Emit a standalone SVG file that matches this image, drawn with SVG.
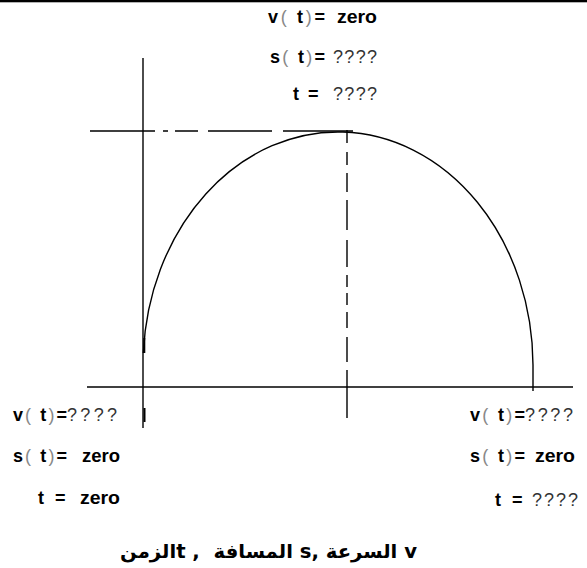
<svg xmlns="http://www.w3.org/2000/svg" width="587" height="568" viewBox="0 0 587 568">
<style>
.ln{stroke:#000;stroke-width:1.4;fill:none}
.b{font-family:"Liberation Sans",Arial,sans-serif;font-size:18px;font-weight:bold;fill:#000}
.r{font-family:"Liberation Sans",Arial,sans-serif;font-size:18px;font-weight:normal;fill:#333}
.p{font-weight:normal;fill:#888}
.ar{font-family:"DejaVu Sans",sans-serif;font-size:19px;font-weight:bold;fill:#000}
</style>
<rect x="0" y="0" width="587" height="2.3" fill="#000"/>
<g id="axes">
<line class="ln" x1="143" y1="58" x2="143" y2="428"/>
<line class="ln" x1="87" y1="387" x2="573" y2="387"/>
<line x1="144.5" y1="408" x2="144.5" y2="422" stroke="#000" stroke-width="2"/>
</g>
<g id="connectors">
<path class="ln" d="M90,131H155 M163,131H168 M175,131H198 M208,131H272 M283,131H353"/>
<path class="ln" d="M347,130V143 M347,152V165 M347,173V192 M347,200V230 M347,240V267 M347,275V287 M347,293V305 M347,312V328 M347,337V362 M347,370V418"/>
<path class="ln" d="M143.3,353 A195,234 0 0 1 533,365 L533,391"/>
<line x1="144.3" y1="338" x2="144.3" y2="353" stroke="#000" stroke-width="2"/>
</g>
<g id="top-label">
<text class="b" x="268" y="23" textLength="57" lengthAdjust="spacing">v<tspan class="p">(</tspan> t<tspan class="p">)</tspan>=</text>
<text class="b" x="337" y="23" textLength="40" lengthAdjust="spacingAndGlyphs">zero</text>
<text class="b" x="270" y="63" textLength="55" lengthAdjust="spacing">s<tspan class="p">(</tspan> t<tspan class="p">)</tspan>=</text>
<text class="r" x="333" y="63" textLength="44" lengthAdjust="spacing">????</text>
<text class="b" x="293" y="100">t</text>
<text class="b" x="308" y="100">=</text>
<text class="r" x="333" y="100" textLength="44" lengthAdjust="spacing">????</text>
</g>
<g id="left-label">
<text class="b" x="13" y="421" textLength="54" lengthAdjust="spacing">v<tspan class="p">(</tspan> t<tspan class="p">)</tspan>=</text>
<text class="r" x="67" y="421" textLength="50" lengthAdjust="spacing">????</text>
<text class="b" x="13" y="462" textLength="54" lengthAdjust="spacing">s<tspan class="p">(</tspan> t<tspan class="p">)</tspan>=</text>
<text class="b" x="82" y="462" textLength="38" lengthAdjust="spacingAndGlyphs">zero</text>
<text class="b" x="38" y="504">t</text>
<text class="b" x="55" y="504">=</text>
<text class="b" x="80" y="504" textLength="40" lengthAdjust="spacingAndGlyphs">zero</text>
</g>
<g id="right-label">
<text class="b" x="470" y="421" textLength="55" lengthAdjust="spacing">v<tspan class="p">(</tspan> t<tspan class="p">)</tspan>=</text>
<text class="r" x="525" y="421" textLength="48" lengthAdjust="spacing">????</text>
<text class="b" x="470" y="462" textLength="55" lengthAdjust="spacing">s<tspan class="p">(</tspan> t<tspan class="p">)</tspan>=</text>
<text class="b" x="535" y="462" textLength="40" lengthAdjust="spacingAndGlyphs">zero</text>
<text class="b" x="495" y="506">t</text>
<text class="b" x="512" y="506">=</text>
<text class="r" x="532" y="506" textLength="46" lengthAdjust="spacing">????</text>
</g>
<g id="caption">
<text class="ar" x="120" y="558" direction="ltr" textLength="297" lengthAdjust="spacingAndGlyphs" xml:space="preserve">الزمنt ,  المسافة s, السرعة v</text>
</g>
</svg>
